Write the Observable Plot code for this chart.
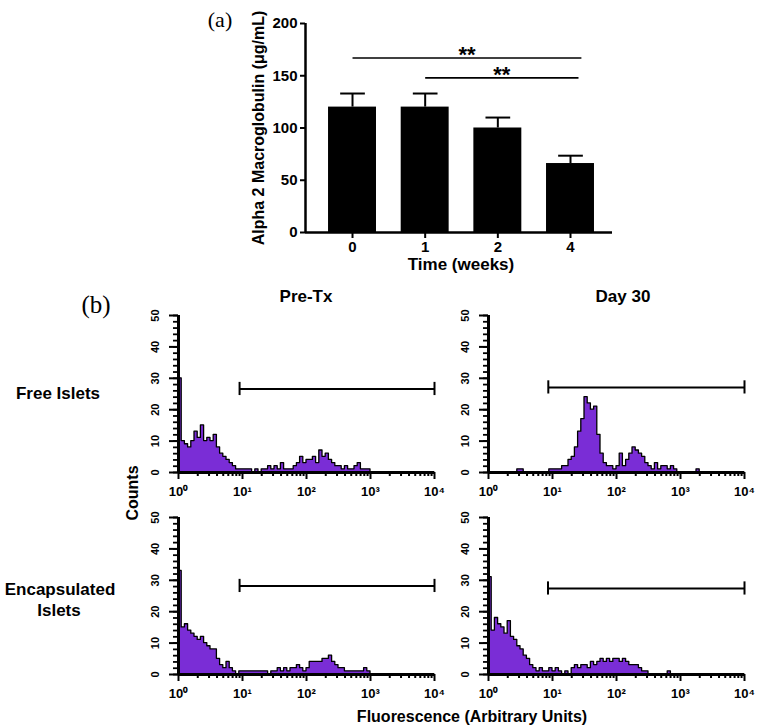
<!DOCTYPE html>
<html><head><meta charset="utf-8">
<script src="https://cdn.jsdelivr.net/npm/d3@7"></script>
<script src="https://cdn.jsdelivr.net/npm/@observablehq/plot@0.6"></script>
<style>
body{margin:0;background:#fff;}
#fig{position:relative;width:761px;height:728px;background:#fff;overflow:hidden;font-family:"Liberation Sans",Arial,sans-serif;}
#fig svg{position:absolute;overflow:visible;}
.lbl{position:absolute;font-weight:bold;color:#000;white-space:nowrap;line-height:1;transform:translate(-50%,-50%);}
.rot{transform:translate(-50%,-50%) rotate(-90deg);}
.serif{position:absolute;font-family:"Liberation Serif","Times New Roman",serif;color:#000;line-height:1;transform:translate(-50%,-50%);white-space:nowrap;}
</style></head>
<body><div id="fig"></div>
<script>
// ---------- Panel (a) data ----------
const weeks = ["0", "1", "2", "4"];
const a2mMean = [120, 120, 100, 66];
const a2mSem = [13, 13, 10, 7.5];
const a2mTicks = [0, 50, 100, 150, 200];
const sigStart = [0, 1];        // bar index where bracket starts
const sigEnd = [3.15, 3.11];    // bar index where bracket ends
const sigLevel = [167, 148];    // µg/mL
const sigText = ["**", "**"];

// ---------- Panel (b) data ----------
const binStep = 0.05; // decades per histogram bin, from 10^0
const countsFreePre = [30,10,9,8,10,13,11,15,10,11, 10,12,8,6,5,4,3,2,1,1,
  1,1,1,0,1,0,1,1,2,1, 2,1,3,1,1,1,2,3,5,3, 4,4,5,3,7,5,6,4,3,2,
  2,1,2,1,1,2,3,1,1,1, 0,0,0,0,0,0,0,0,0,0, 0,0,0,0,0,0,0,0,0,0];
const countsFreeDay30 = [0,0,0,0,0,0,0,0,0,1, 1,0,0,0,0,0,0,0,0,1,
  1,1,1,2,2,4,5,8,13,17, 24,22,20,21,12,6,3,2,2,1, 2,6,2,4,6,8,7,6,5,3,
  2,1,3,1,2,2,1,2,1,0, 0,0,0,0,0,1,0,0,0,0, 0,0,0,0,0,0,0,0,0,0];
const countsEncPre = [33,15,16,14,13,12,11,12,10,9, 8,8,5,3,2,4,2,1,0,1,
  1,1,1,1,1,1,1,1,0,1, 1,2,1,2,1,2,2,3,2,1, 2,4,4,4,4,5,5,6,4,3,
  2,2,1,1,1,1,1,1,2,1, 0,0,0,0,0,0,0,0,0,0, 0,0,0,0,0,0,0,0,0,0];
const countsEncDay30 = [31,14,18,16,15,13,17,12,11,9, 8,6,5,3,2,1,2,1,1,2,
  1,2,1,0,1,0,2,3,2,3, 3,2,4,3,4,5,4,5,4,5, 5,4,5,4,3,3,3,2,1,1,
  0,0,0,0,0,0,1,0,0,0, 0,0,0,0,0,0,0,0,0,0, 0,0,0,0,0,0,0,0,0,0];
const gateStart = [9, 8.6, 9, 8.5];
const gateEnd = [10000, 10000, 10000, 10000];
const gateCount = [26.6, 27.1, 28.2, 27.4];
const decadeTicks = [1, 10, 100, 1000, 10000];
const decadeLabels = ["10⁰", "10¹", "10²", "10³", "10⁴"];
const countTicks = [0, 10, 20, 30, 40, 50];
const colTitles = ["Pre-Tx", "Day 30"];
const rowTitles = [["Free Islets"], ["Encapsulated", "Islets"]];

const fig = document.getElementById("fig");
const FONT = '"Liberation Sans", Arial, sans-serif';
const PURPLE = "#7a2dd6";

function place(svg, left, top) {
  svg.style.position = "absolute";
  svg.style.left = left + "px";
  svg.style.top = top + "px";
  svg.style.maxWidth = "none";
  fig.appendChild(svg);
}
function addLabel(text, cx, cy, size, cls = "lbl", extra = "") {
  const d = document.createElement("div");
  d.className = cls + (extra ? " " + extra : "");
  d.style.left = cx + "px";
  d.style.top = cy + "px";
  d.style.fontSize = size + "px";
  d.textContent = text;
  fig.appendChild(d);
}

// ---------- Panel (a) ----------
const xDomA = [-0.647, 3.578];
const bars = weeks.map((w, i) => ({pos: i, week: w, mean: a2mMean[i], top: a2mMean[i] + a2mSem[i]}));
const sig = sigStart.map((s, i) => ({x1: s, x2: sigEnd[i], y: sigLevel[i], text: sigText[i]}));
const plotA = Plot.plot({
  width: 430, height: 290,
  marginLeft: 115, marginRight: 8, marginTop: 23, marginBottom: 58,
  style: {fontFamily: FONT, fontWeight: "bold", fontSize: "15px", color: "black", background: "transparent"},
  x: {domain: xDomA, label: null},
  y: {domain: [0, 200], label: null},
  marks: [
    Plot.rectY(bars, {x1: d => d.pos - 0.33, x2: d => d.pos + 0.33, y: "mean", fill: "black"}),
    Plot.ruleX(bars, {x: "pos", y1: "mean", y2: "top", strokeWidth: 2}),
    Plot.link(bars, {x1: d => d.pos - 0.17, x2: d => d.pos + 0.17, y1: "top", y2: "top", strokeWidth: 2}),
    Plot.link(sig, {x1: "x1", x2: "x2", y1: "y", y2: "y", strokeWidth: 1.7}),
    Plot.text(sig, {x: d => (d.x1 + d.x2) / 2, y: "y", text: "text", dy: -3, fontSize: 22, fontWeight: "bold"}),
    Plot.axisY({ticks: a2mTicks, tickSize: 5, tickPadding: 3, strokeWidth: 2, fontSize: 15}),
    Plot.axisX({ticks: weeks.map((w, i) => i), tickFormat: i => weeks[i], tickSize: 6, tickPadding: 3, strokeWidth: 2, fontSize: 15}),
    Plot.ruleX([xDomA[0]], {strokeWidth: 2.5}),
    Plot.ruleY([0], {strokeWidth: 2.5}),
    Plot.text(["Alpha 2 Macroglobulin (μg/mL)"], {frameAnchor: "left", textAnchor: "middle", lineAnchor: "middle", rotate: -90, dx: -47, fontSize: 16, fontWeight: "bold"}),
    Plot.text(["Time (weeks)"], {frameAnchor: "bottom", lineAnchor: "middle", dy: 32, dx: 2, fontSize: 17, fontWeight: "bold"})
  ]
});
place(plotA, 190, 0);
addLabel("(a)", 220, 20, 22, "serif");

// ---------- Panel (b) ----------
const minorX = [];
for (const d of [1, 10, 100, 1000]) for (let k = 2; k <= 9; k++) minorX.push(d * k);
const minorY = d3.range(0, 51, 2);

function hist(counts, g) {
  const data = counts.map((c, i) => ({x: Math.pow(10, i * binStep), count: c}));
  data.push({x: 10000, count: counts[counts.length - 1]});
  const gate = [{x1: gateStart[g], x2: gateEnd[g], y: gateCount[g]}];
  const caps = [{x: gateStart[g], y: gateCount[g]}, {x: gateEnd[g], y: gateCount[g]}];
  return Plot.plot({
    width: 310, height: 200,
    marginLeft: 40, marginRight: 14, marginTop: 10, marginBottom: 33,
    style: {fontFamily: FONT, fontWeight: "bold", fontSize: "13px", color: "black", background: "transparent"},
    x: {type: "log", domain: [1, 10000], label: null},
    y: {domain: [0, 50], label: null},
    marks: [
      Plot.areaY(data, {x: "x", y: "count", curve: "step-after", fill: PURPLE, stroke: "black", strokeWidth: 1.3}),
      Plot.axisX({ticks: minorX, tickSize: 4, tickFormat: () => "", strokeWidth: 2}),
      Plot.axisX({ticks: decadeTicks, tickSize: 7, tickPadding: 7, tickFormat: d => decadeLabels[decadeTicks.indexOf(d)], strokeWidth: 2, fontSize: 13}),
      Plot.axisY({ticks: minorY, tickSize: 5, tickFormat: () => "", strokeWidth: 1.8}),
      Plot.axisY({ticks: countTicks, tickSize: 9, tickPadding: 11, tickRotate: -90, strokeWidth: 2, fontSize: 11}),
      Plot.ruleX([1], {strokeWidth: 3}),
      Plot.ruleY([0], {strokeWidth: 3}),
      Plot.link(gate, {x1: "x1", x2: "x2", y1: "y", y2: "y", strokeWidth: 2}),
      Plot.ruleX(caps, {x: "x", y1: d => d.y - 2.1, y2: d => d.y + 2.1, strokeWidth: 2})
    ]
  });
}
place(hist(countsFreePre, 0), 138, 305);
place(hist(countsFreeDay30, 1), 448, 305);
place(hist(countsEncPre, 2), 138, 507);
place(hist(countsEncDay30, 3), 448, 507);

addLabel("(b)", 96, 304, 25, "serif");
addLabel(colTitles[0], 306, 296, 17);
addLabel(colTitles[1], 623, 296, 17);
addLabel(rowTitles[0][0], 58, 393, 17);
addLabel(rowTitles[1][0], 60, 589, 17);
addLabel(rowTitles[1][1], 59, 610, 17);
addLabel("Counts", 133, 493, 16, "lbl", "rot");
addLabel("Fluorescence (Arbitrary Units)", 472, 717, 16);
</script></body></html>
